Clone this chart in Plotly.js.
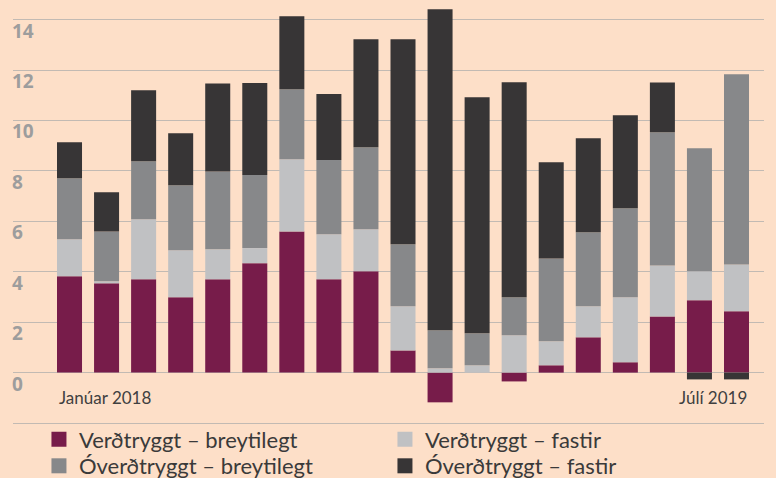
<!DOCTYPE html>
<html>
<head>
<meta charset="utf-8">
<script src="https://cdn.plot.ly/plotly-3.0.1.min.js"></script>
<style>html,body{margin:0;padding:0;background:#fddfc8;}#chart{width:776px;height:478px;}</style>
</head>
<body>
<div id="chart"></div>
<script>
var months = ['jan 2018','feb 2018','mar 2018','apr 2018','maí 2018','jún 2018','júl 2018','ágú 2018','sep 2018','okt 2018','nóv 2018','des 2018','jan 2019','feb 2019','mar 2019','apr 2019','maí 2019','jún 2019','júl 2019'];
var seriesNames = ['Verðtryggt – breytilegt','Verðtryggt – fastir','Óverðtryggt – breytilegt','Óverðtryggt – fastir'];
var vertrBreyt = [3.82,3.54,3.70,2.99,3.70,4.34,5.60,3.70,4.02,0.88,-1.18,0.00,-0.35,0.29,1.40,0.41,2.23,2.87,2.43];
var vertrFast  = [1.47,0.08,2.38,1.86,1.19,0.60,2.86,1.79,1.67,1.75,0.17,0.29,1.48,0.95,1.23,2.58,2.02,1.15,1.86];
var overBreyt  = [2.42,1.98,2.30,2.58,3.09,2.90,2.78,2.94,3.25,2.46,1.51,1.27,1.51,3.29,2.94,3.53,5.28,4.88,7.54];
var overFast   = [1.43,1.55,2.82,2.06,3.49,3.65,2.90,2.62,4.28,8.13,12.73,9.36,8.53,3.81,3.73,3.69,1.98,-0.27,-0.27];
var yTicks = [-2,0,2,4,6,8,10,12,14];
var yTickText = ['','0','2','4','6','8','10','12','14'];
var xLabelFirst = 'Janúar 2018';
var xLabelLast = 'Júlí 2019';

var colors = ['#771c4a','#c0c1c3','#87888a','#373536'];
var vals = [vertrBreyt, vertrFast, overBreyt, overFast];
var legendFor = ['legend','legend','legend2','legend2'];
var traces = vals.map(function(v,i){
  return {type:'bar', x:months, y:v, name:seriesNames[i], marker:{color:colors[i], line:{width:0}},
          hoverinfo:'skip', showlegend:false};
});
// legend-only entries (square markers)
vals.forEach(function(v,i){
  traces.push({type:'scatter', mode:'markers', x:[null], y:[null], name:seriesNames[i],
    marker:{symbol:'square', size:15, color:colors[i]}, legend:legendFor[i], showlegend:true, hoverinfo:'skip'});
});
var halfBar = 0.3373;
var legFont = {family:'Lato, sans-serif', size:22, color:'#3a3a3a'};
var layout = {
  width:776, height:478,
  margin:{l:13, r:12, t:1, b:0, pad:0, autoexpand:false},
  paper_bgcolor:'#fddfc8', plot_bgcolor:'#fddfc8',
  barmode:'relative', bargap:0.325,
  showlegend:true,
  legend:{orientation:'h', xref:'container', yref:'container', x:0.0502, xanchor:'left', y:0.0805, yanchor:'middle',
          font:legFont, entrywidth:301, entrywidthmode:'pixels', traceorder:'normal', bgcolor:'rgba(0,0,0,0)', borderwidth:0},
  legend2:{orientation:'h', xref:'container', yref:'container', x:0.0502, xanchor:'left', y:0.0251, yanchor:'middle',
          font:legFont, entrywidth:301, entrywidthmode:'pixels', traceorder:'normal', bgcolor:'rgba(0,0,0,0)', borderwidth:0},
  xaxis:{type:'category', range:[-1.525, 18.742], showticklabels:false, ticks:'', showgrid:false,
         zeroline:false, showline:false, fixedrange:true},
  yaxis:{range:[-4.181, 14.74], tickvals:yTicks, ticktext:yTickText, ticklabelposition:'inside bottom',
         ticklabelstandoff:-4, ticklabelshift:-2,
         ticks:'', showgrid:true, gridcolor:'#c2bab3', gridwidth:1, zeroline:false, showline:false,
         tickfont:{family:'Open Sans, sans-serif', size:19, color:'#9d9d9d', weight:700}, fixedrange:true},
  annotations:[
    {xref:'x', yref:'y', x:0-halfBar, y:-1.0, xanchor:'left', yanchor:'middle', text:xLabelFirst, showarrow:false,
     font:{family:'Lato, sans-serif', size:17, color:'#404040'}},
    {xref:'x', yref:'y', x:18+halfBar, y:-1.0, xanchor:'right', yanchor:'middle', text:xLabelLast, showarrow:false,
     font:{family:'Lato, sans-serif', size:17, color:'#404040'}}
  ]
};
Plotly.newPlot('chart', traces, layout, {staticPlot:true, displayModeBar:false});
</script>
</body>
</html>
